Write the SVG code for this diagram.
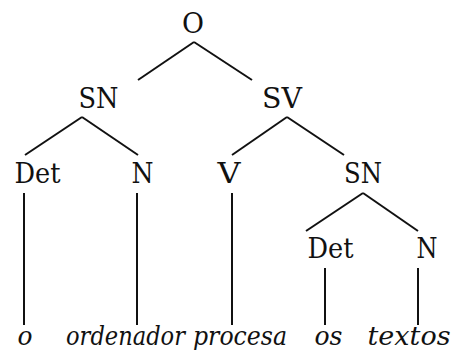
<svg xmlns="http://www.w3.org/2000/svg" width="459" height="353" viewBox="0 0 459 353">
<style>
text{font-family:'DejaVu Serif',serif;font-size:28px;fill:#111;text-anchor:middle}
.w{font-style:italic;font-size:26px}
.e{stroke:#111;stroke-width:2;fill:none;stroke-linecap:butt}
</style>
<rect width="459" height="353" fill="#fff"/>
<g id="connectors" class="e">
<line x1="194" y1="42" x2="138" y2="80"/>
<line x1="194" y1="42" x2="252" y2="80"/>
<line x1="82" y1="117" x2="25" y2="155"/>
<line x1="82" y1="117" x2="138" y2="155"/>
<line x1="287" y1="117" x2="232" y2="155"/>
<line x1="287" y1="117" x2="344" y2="155"/>
<line x1="24" y1="193" x2="24" y2="325"/>
<line x1="137" y1="193" x2="137" y2="325"/>
<line x1="232" y1="193" x2="232" y2="325"/>
<line x1="363" y1="193" x2="306" y2="231"/>
<line x1="363" y1="193" x2="418" y2="231"/>
<line x1="325" y1="268" x2="325" y2="325"/>
<line x1="418" y1="268" x2="418" y2="325"/>
</g>
<g id="n-O"><text x="193" y="33" textLength="22" lengthAdjust="spacingAndGlyphs">O</text></g>
<g id="n-SN1"><text x="98.5" y="108" textLength="40" lengthAdjust="spacingAndGlyphs">SN</text></g>
<g id="n-SV"><text x="282" y="108" textLength="40" lengthAdjust="spacingAndGlyphs">SV</text></g>
<g id="n-Det1"><text x="37.5" y="183" textLength="46" lengthAdjust="spacingAndGlyphs">Det</text></g>
<g id="n-N1"><text x="142.5" y="183" textLength="22" lengthAdjust="spacingAndGlyphs">N</text></g>
<g id="n-V"><text x="229" y="183" textLength="23" lengthAdjust="spacingAndGlyphs">V</text></g>
<g id="n-SN2"><text x="363" y="183" textLength="38" lengthAdjust="spacingAndGlyphs">SN</text></g>
<g id="n-Det2"><text x="330.5" y="258" textLength="46" lengthAdjust="spacingAndGlyphs">Det</text></g>
<g id="n-N2"><text x="427" y="258" textLength="21" lengthAdjust="spacingAndGlyphs">N</text></g>
<g id="w-o"><text class="w" x="25" y="345" textLength="15" lengthAdjust="spacingAndGlyphs">o</text></g>
<g id="w-ordenador"><text class="w" x="125.5" y="345" textLength="119" lengthAdjust="spacingAndGlyphs">ordenador</text></g>
<g id="w-procesa"><text class="w" x="240" y="345" textLength="94" lengthAdjust="spacingAndGlyphs">procesa</text></g>
<g id="w-os"><text class="w" x="328.5" y="345" textLength="28" lengthAdjust="spacingAndGlyphs">os</text></g>
<g id="w-textos"><text class="w" x="409" y="345" textLength="83" lengthAdjust="spacingAndGlyphs">textos</text></g>
</svg>
